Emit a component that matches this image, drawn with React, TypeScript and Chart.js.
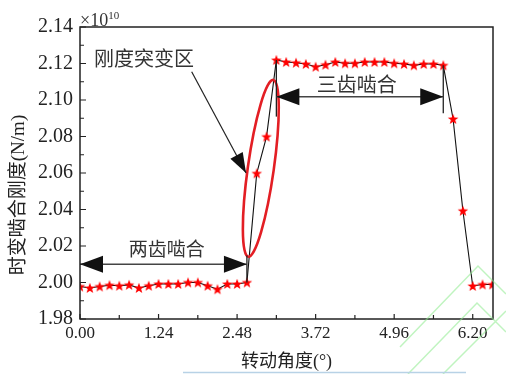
import React, { useEffect, useRef } from 'react';
import { Chart, registerables } from 'chart.js';
Chart.register(...registerables);

// rotation angle (deg)
const angles = [
  0.000, 0.155, 0.310, 0.465, 0.620, 0.775, 0.930, 1.085, 1.240, 1.395, 1.550, 1.705, 1.860, 2.015, 2.170, 2.325, 2.480, 2.635,
  2.790, 2.945,
  3.100, 3.255, 3.410, 3.565, 3.720, 3.875, 4.030, 4.185, 4.340, 4.495, 4.650, 4.805, 4.960, 5.115, 5.270, 5.425, 5.580, 5.735,
  5.890, 6.045, 6.200, 6.355, 6.510,
];
// time-varying mesh stiffness (x1e10 N/m)
const stiffness = [
  1.9978, 1.9970, 1.9978, 1.9985, 1.9982, 1.9987, 1.9970, 1.9982, 1.9992, 1.9992, 1.9992, 2.0000, 2.0000, 1.9982, 1.9963, 1.9992, 1.9992, 2.0000,
  2.0598, 2.0799,
  2.1219, 2.1208, 2.1204, 2.1197, 2.1182, 2.1193, 2.1208, 2.1201, 2.1201, 2.1208, 2.1208, 2.1208, 2.1201, 2.1197, 2.1190, 2.1197, 2.1197, 2.1190,
  2.0896, 2.0393, 1.9981, 1.9989, 1.9989,
];
const xTicks = [0.00, 1.24, 2.48, 3.72, 4.96, 6.20];
const xMinorTicks = [0.62, 1.86, 3.10, 4.34, 5.58];
const yTicks = [1.98, 2.00, 2.02, 2.04, 2.06, 2.08, 2.10, 2.12, 2.14];
const yMinorTicks = [1.99, 2.01, 2.03, 2.05, 2.07, 2.09, 2.11, 2.13];

const xLabel = '转动角度(°)';
const yLabel = '时变啮合刚度(N/m)';
const exponentBase = '×10';
const exponentPower = '10';

// annotations, in data units [angle, stiffness]
const labelJump = { text: '刚度突变区', at: [1.01, 2.1228] };
const labelTwo = { text: '两齿啮合', at: [1.369, 2.0187] };
const labelThree = { text: '三齿啮合', at: [4.368, 2.1088] };
const arrowTwo = [[0.0, 2.01], [2.635, 2.01]];
const arrowThree = [[3.10, 2.1018], [5.735, 2.1018]];
const barsX = [
  [[2.635, 2.0148], [2.635, 2.0]],
  [[3.10, 2.1219], [3.10, 2.0909]],
  [[5.735, 2.119], [5.735, 2.0927]],
];
const leader = [[1.763, 2.1155], [2.621, 2.060]];
const ellipseEnds = [[3.052, 2.111], [2.657, 2.0141]];

const SERIF = "'Liberation Serif', 'Times New Roman', serif";
const MIXED = "'Liberation Serif', 'Noto Sans CJK SC', serif";
const CJK = "'Noto Sans CJK SC', sans-serif";

function makeStar(): HTMLCanvasElement {
  const c = document.createElement('canvas');
  c.width = 12; c.height = 12;
  const g = c.getContext('2d')!;
  g.fillStyle = '#ff0000';
  g.beginPath();
  for (let i = 0; i < 10; i++) {
    const r = i % 2 === 0 ? 5.6 : 2.3;
    const a = -Math.PI / 2 + (i * Math.PI) / 5;
    const x = 6 + r * Math.cos(a), y = 6.4 + r * Math.sin(a);
    if (i === 0) g.moveTo(x, y); else g.lineTo(x, y);
  }
  g.closePath();
  g.fill();
  return c;
}

function head(ctx: CanvasRenderingContext2D, tx: number, ty: number, fx: number, fy: number, len: number, half: number) {
  const dx = tx - fx, dy = ty - fy;
  const d = Math.hypot(dx, dy) || 1;
  const ux = dx / d, uy = dy / d;
  const bx = tx - ux * len, by = ty - uy * len;
  ctx.beginPath();
  ctx.moveTo(tx, ty);
  ctx.lineTo(bx - uy * half, by + ux * half);
  ctx.lineTo(bx + uy * half, by - ux * half);
  ctx.closePath();
  ctx.fill();
}

const decorPlugin = {
  id: 'decor',
  afterDatasetsDraw(chart: any) {
    const { ctx, chartArea: a, scales } = chart;
    const px = (v: number) => scales.x.getPixelForValue(v);
    const py = (v: number) => scales.y.getPixelForValue(v);
    ctx.save();
    // ellipse
    const [t, b] = ellipseEnds;
    const x1 = px(t[0]), y1 = py(t[1]), x2 = px(b[0]), y2 = py(b[1]);
    ctx.strokeStyle = '#e31e24';
    ctx.lineWidth = 2.6;
    ctx.beginPath();
    ctx.ellipse((x1 + x2) / 2, (y1 + y2) / 2, Math.hypot(x2 - x1, y2 - y1) / 2, 13, Math.atan2(y2 - y1, x2 - x1), 0, Math.PI * 2);
    ctx.stroke();

    ctx.strokeStyle = '#222';
    ctx.fillStyle = '#111';
    ctx.lineWidth = 1.3;
    // bars
    for (const [p, q] of barsX) {
      ctx.beginPath();
      ctx.moveTo(px(p[0]), py(p[1]));
      ctx.lineTo(px(q[0]), py(q[1]));
      ctx.stroke();
    }
    // double arrows
    for (const [p, q] of [arrowTwo, arrowThree]) {
      const ax = px(p[0]), ay = py(p[1]), bx = px(q[0]), by = py(q[1]);
      ctx.strokeStyle = '#444';
      ctx.lineWidth = 1.6;
      ctx.beginPath();
      ctx.moveTo(ax, ay); ctx.lineTo(bx, by);
      ctx.stroke();
      head(ctx, ax, ay, bx, by, 23, 8.5);
      head(ctx, bx, by, ax, ay, 23, 8.5);
    }
    // leader
    {
      const [p, q] = leader;
      const ax = px(p[0]), ay = py(p[1]), bx = px(q[0]), by = py(q[1]);
      ctx.strokeStyle = '#222';
      ctx.lineWidth = 1.2;
      ctx.beginPath();
      ctx.moveTo(ax, ay); ctx.lineTo(bx, by);
      ctx.stroke();
      head(ctx, bx, by, ax, ay, 20, 7);
    }
    // labels
    ctx.fillStyle = '#333';
    ctx.textAlign = 'center';
    ctx.textBaseline = 'middle';
    ctx.font = `20px ${CJK}`;
    for (const l of [labelJump, labelThree]) ctx.fillText(l.text, px(l.at[0]), py(l.at[1]));
    ctx.font = `19px ${CJK}`;
    ctx.fillText(labelTwo.text, px(labelTwo.at[0]), py(labelTwo.at[1]));
    ctx.restore();
  },
  afterDraw(chart: any) {
    const { ctx, chartArea: a, scales } = chart;
    const px = (v: number) => scales.x.getPixelForValue(v);
    const py = (v: number) => scales.y.getPixelForValue(v);
    ctx.save();
    // frame
    ctx.strokeStyle = '#222';
    ctx.lineWidth = 1.5;
    ctx.strokeRect(a.left, a.top, a.right - a.left, a.bottom - a.top);
    // ticks inward
    ctx.lineWidth = 1.2;
    ctx.beginPath();
    for (const v of yTicks) { const y = py(v); ctx.moveTo(a.left, y); ctx.lineTo(a.left + 6, y); }
    for (const v of yMinorTicks) { const y = py(v); ctx.moveTo(a.left, y); ctx.lineTo(a.left + 4, y); }
    for (const v of xTicks) { const x = px(v); ctx.moveTo(x, a.bottom); ctx.lineTo(x, a.bottom - 5); }
    for (const v of xMinorTicks) { const x = px(v); ctx.moveTo(x, a.bottom); ctx.lineTo(x, a.bottom - 4); }
    ctx.stroke();
    // exponent
    ctx.fillStyle = '#333';
    ctx.textAlign = 'left';
    ctx.textBaseline = 'alphabetic';
    ctx.font = `18px ${SERIF}`;
    ctx.fillText(exponentBase, a.left, a.top - 1.5);
    const w = ctx.measureText(exponentBase).width;
    ctx.font = `11px ${SERIF}`;
    ctx.fillText(exponentPower, a.left + w, a.top - 8);
    // axis titles
    ctx.fillStyle = '#222';
    ctx.textAlign = 'center';
    ctx.textBaseline = 'middle';
    ctx.font = `18px ${MIXED}`;
    ctx.fillText(xLabel, (a.left + a.right) / 2, 362);
    ctx.save();
    ctx.translate(19, 195);
    ctx.rotate(-Math.PI / 2);
    ctx.font = `19px ${MIXED}`;
    ctx.fillText(yLabel, 0, 0);
    ctx.restore();
    // page decorations (watermark lines)
    ctx.strokeStyle = 'rgba(140,235,140,0.55)';
    ctx.lineWidth = 1.5;
    ctx.beginPath();
    ctx.moveTo(400, 347); ctx.lineTo(478, 266); ctx.lineTo(506, 294);
    ctx.moveTo(408, 374); ctx.lineTo(477, 303); ctx.lineTo(506, 332);
    ctx.moveTo(443, 374); ctx.lineTo(506, 311);
    ctx.stroke();
    ctx.strokeStyle = '#b8d2e6';
    ctx.beginPath();
    ctx.moveTo(183, 372.5); ctx.lineTo(466, 372.5);
    ctx.stroke();
    ctx.restore();
  },
};

export default function App() {
  const ref = useRef<HTMLCanvasElement>(null);
  useEffect(() => {
    const star = makeStar();
    const chart = new Chart(ref.current!, {
      type: 'line',
      data: {
        datasets: [{
          data: angles.map((x, i) => ({ x, y: stiffness[i] })),
          borderColor: '#111',
          borderWidth: 1.1,
          pointStyle: star as any,
          pointRadius: 5,
          clip: 0,
          tension: 0,
        }],
      },
      options: {
        animation: false,
        responsive: true,
        maintainAspectRatio: false,
        events: [],
        layout: { padding: { top: 27, right: 13, left: 0, bottom: 0 } },
        plugins: { legend: { display: false }, tooltip: { enabled: false }, title: { display: false } },
        scales: {
          x: {
            type: 'linear', min: 0, max: 6.52,
            afterBuildTicks: (s: any) => { s.ticks = xTicks.map((value) => ({ value })); },
            afterFit: (s: any) => { s.height = 55; },
            grid: { display: false, drawTicks: false },
            border: { display: false },
            ticks: { padding: 4, color: '#222', font: { family: SERIF, size: 17 }, maxRotation: 0, autoSkip: false, callback: (v: any) => Number(v).toFixed(2) },
          },
          y: {
            type: 'linear', min: 1.98, max: 2.14,
            afterBuildTicks: (s: any) => { s.ticks = yTicks.map((value) => ({ value })); },
            afterFit: (s: any) => { s.width = 80; },
            grid: { display: false, drawTicks: false },
            border: { display: false },
            ticks: { padding: 7, color: '#222', font: { family: SERIF, size: 20 }, autoSkip: false, callback: (v: any) => Number(v).toFixed(2) },
          },
        },
      },
      plugins: [decorPlugin],
    });
    return () => chart.destroy();
  }, []);
  return (
    <div style={{ position: 'absolute', left: 0, top: 0, width: 506, height: 374, background: '#fff' }}>
      <canvas ref={ref} />
    </div>
  );
}
